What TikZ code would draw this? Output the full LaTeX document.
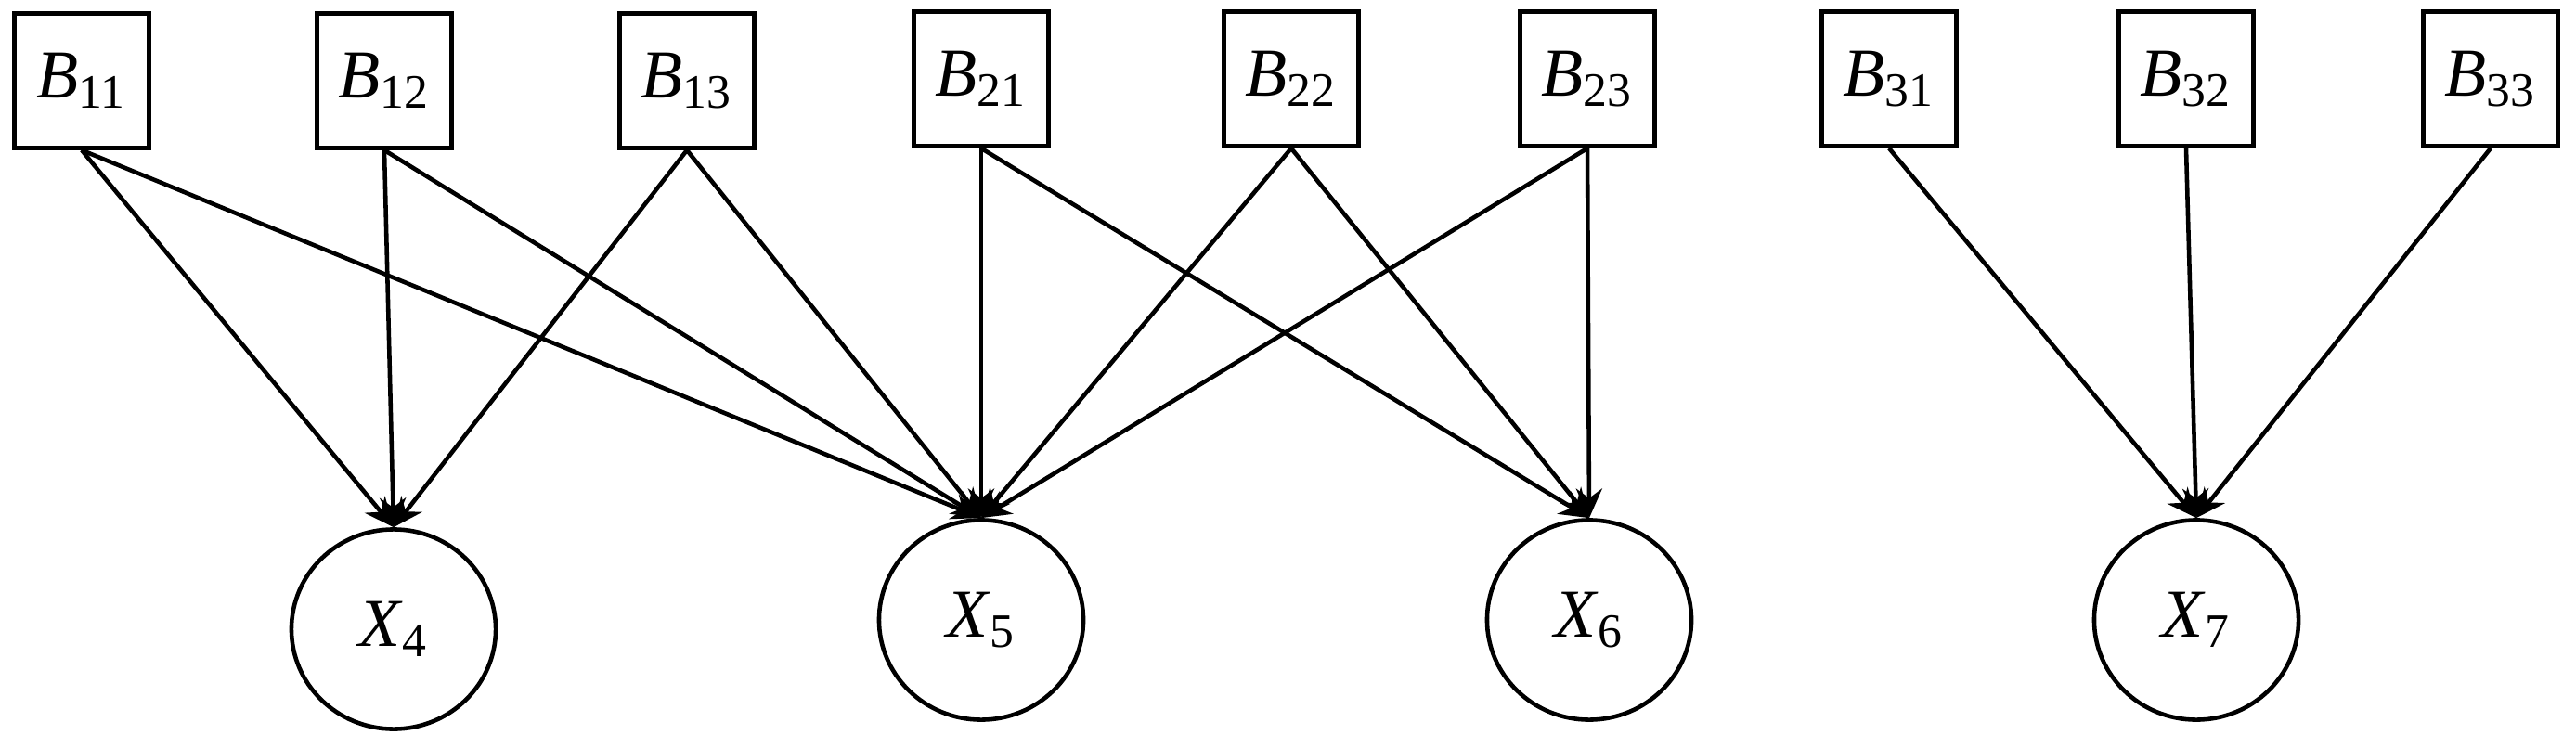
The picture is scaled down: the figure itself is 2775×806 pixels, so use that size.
\documentclass[tikz,border=0pt]{standalone}
\usepackage{fontspec}
\setmainfont{Liberation Serif}
\usetikzlibrary{arrows.meta,shapes.geometric}
\newcommand{\lbl}[2]{\textit{#1}\textsubscript{#2}}
\begin{document}
\begin{tikzpicture}[x=0.01cm,y=-0.01cm,
	box/.style={draw, line width=1.3pt, minimum width=1.45cm, minimum height=1.45cm, inner sep=0pt, font=\fontsize{21}{24}\selectfont},
	var/.style={draw, ellipse, line width=1.3pt, minimum width=2.2cm, minimum height=2.15cm, inner sep=0pt, font=\fontsize{21}{24}\selectfont},
	edge/.style={line width=1.3pt, -{Stealth[length=9pt,width=8pt]}}]
	\useasboundingbox (0,0) rectangle (2775,806);
	% Knoten oben
	\node[box] (b11) at (88, 87) {\lbl{B}{11}};
	\node[box] (b12) at (414, 87) {\lbl{B}{12}};
	\node[box] (b13) at (740, 87) {\lbl{B}{13}};
	\node[box] (b21) at (1057, 85) {\lbl{B}{21}};
	\node[box] (b22) at (1391, 85) {\lbl{B}{22}};
	\node[box] (b23) at (1710, 85) {\lbl{B}{23}};
	\node[box] (b31) at (2035, 85) {\lbl{B}{31}};
	\node[box] (b32) at (2355, 85) {\lbl{B}{32}};
	\node[box] (b33) at (2683, 85) {\lbl{B}{33}};
	% Knoten unten
	\node[var] (x4) at (424, 678) {\lbl{X}{4}};
	\node[var] (x5) at (1057, 668) {\lbl{X}{5}};
	\node[var] (x6) at (1712, 668) {\lbl{X}{6}};
	\node[var] (x7) at (2366, 668) {\lbl{X}{7}};
	% Kanten
	\foreach \s/\t in {b11/x4, b11/x5, b12/x4, b12/x5, b13/x4, b13/x5,
		b21/x5, b21/x6, b22/x5, b22/x6, b23/x5, b23/x6,
		b31/x7, b32/x7, b33/x7}
		\draw[edge] (\s.south) -- (\t.north);
\end{tikzpicture}
\end{document}
